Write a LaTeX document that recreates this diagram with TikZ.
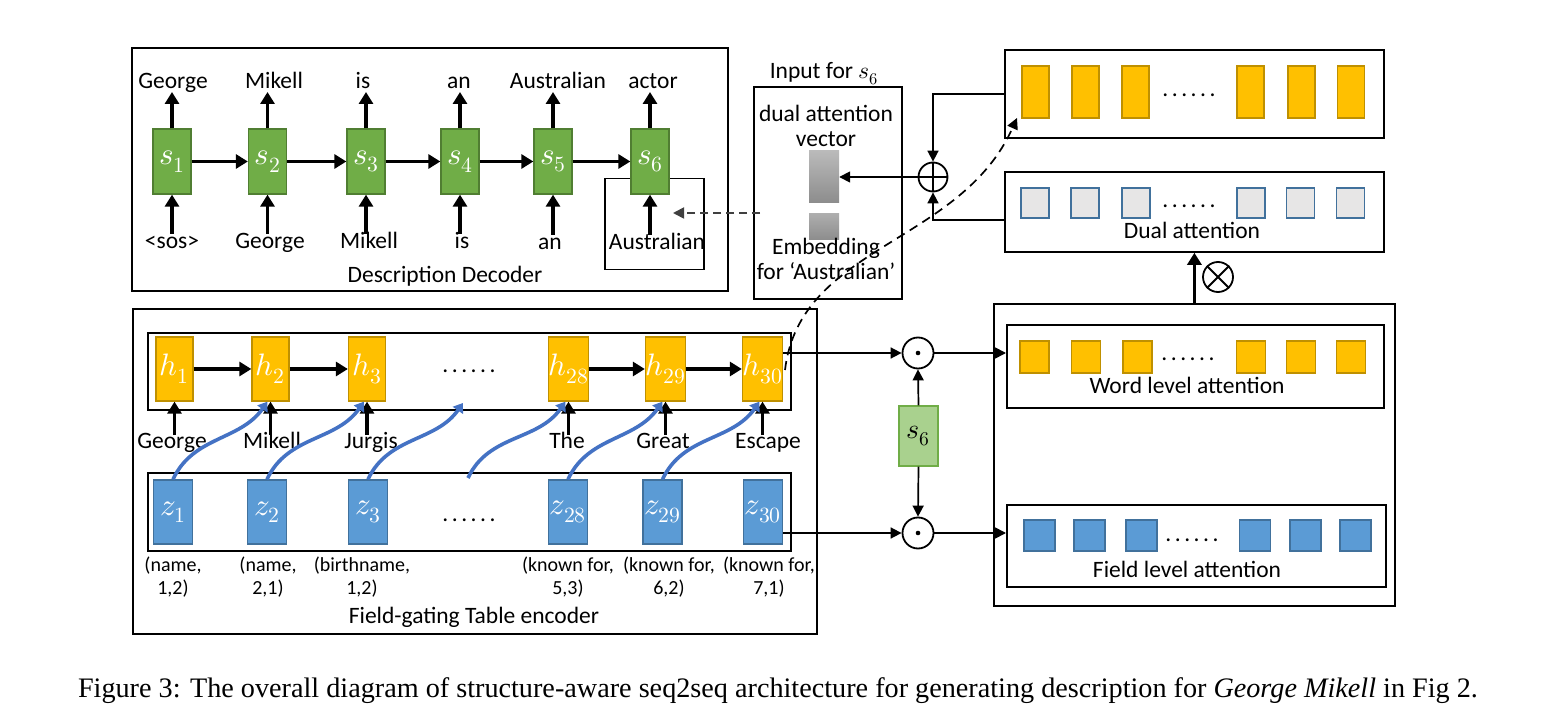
\documentclass[tikz,border=0pt]{standalone}
\usepackage{fontspec}
\usepackage{unicode-math}
\setmainfont{Carlito}
\setmathfont{Latin Modern Math}
\newfontfamily\capfont{Liberation Serif}
\usetikzlibrary{arrows.meta,calc}
\definecolor{sgreen}{HTML}{70AD47}
\definecolor{sgreenb}{HTML}{507E32}
\definecolor{lgreen}{HTML}{A9D18E}
\definecolor{ygold}{HTML}{FFC000}
\definecolor{ygoldb}{HTML}{BF9000}
\definecolor{zblue}{HTML}{5B9BD5}
\definecolor{zblueb}{HTML}{41719C}
\definecolor{cblue}{HTML}{4472C4}
\definecolor{lgray}{HTML}{E7E6E6}
\definecolor{dgray}{HTML}{404040}
\newcommand\sixdots{.\kern3.5pt.\kern3.5pt.\kern3.5pt.\kern3.5pt.\kern3.5pt.}
\begin{document}
\begin{tikzpicture}[x=1pt,y=-1pt,
  framebox/.style={draw=black, line width=1.8pt, rectangle, anchor=north west, inner sep=0pt},
  lbl/.style={font=\fontsize{23.5}{27}\selectfont, inner sep=0pt, anchor=base},
  plbl/.style={font=\fontsize{20}{23}\selectfont, inner sep=0pt, align=center},
  cell/.style={rectangle, inner sep=0pt, line width=1.3pt, text=white, font=\fontsize{31}{33}\selectfont},
  sbox/.style={cell, fill=sgreen, draw=sgreenb, minimum width=38pt, minimum height=65pt},
  hbox/.style={cell, fill=ygold, draw=ygoldb, minimum width=37pt, minimum height=64pt},
  zbox/.style={cell, fill=zblue, draw=zblueb, minimum width=39pt, minimum height=64pt},
  yrect/.style={rectangle, inner sep=0pt, line width=1.3pt, fill=ygold, draw=ygoldb},
  grect/.style={rectangle, inner sep=0pt, line width=1.3pt, fill=lgray, draw=zblueb, minimum width=28pt, minimum height=30pt},
  brect/.style={rectangle, inner sep=0pt, line width=1.3pt, fill=zblue, draw=zblueb, minimum width=31pt, minimum height=31pt},
  tarrow/.style={line width=3.6pt, -{Triangle[length=12pt,width=14pt]}},
  narrow/.style={line width=1.7pt, -{Triangle[length=11pt,width=11pt]}},
  barrow/.style={cblue, line width=3.6pt, -{Triangle[length=9pt,width=12pt]}},
  dasharrow/.style={line width=1.8pt, dash pattern=on 8pt off 5pt, -{Triangle[length=11pt,width=11pt]}},
  circop/.style={circle, draw, line width=1.8pt, minimum size=31pt, inner sep=0pt}
]
\fill[white] (0,0) rectangle (1550,708);
\useasboundingbox (0,0) rectangle (1550,708);

% ---------------- Decoder ----------------
\node[framebox, minimum width=596pt, minimum height=243pt] (dec) at (131,47) {};
\node[framebox, line width=1.5pt, minimum width=99pt, minimum height=91pt] (s6in) at (604,178) {};
\foreach \i/\x in {1/172,2/267.5,3/366,4/460,5/553,6/650}
  \node[sbox] (s\i) at (\x,161.5) {$s_{\i}$};
\node[lbl] (o1) at (173,89) {George};
\node[lbl] (o2) at (274,89) {Mikell};
\node[lbl] (o3) at (363,89) {is};
\node[lbl] (o4) at (459,89) {an};
\node[lbl] (o5) at (558,89) {Australian};
\node[lbl] (o6) at (653,89) {actor};
\node[lbl] (i1) at (172,249) {<sos>};
\node[lbl] (i2) at (270,249) {George};
\node[lbl] (i3) at (369,249) {Mikell};
\node[lbl] (i4) at (462,249) {is};
\node[lbl] (i5) at (550,250) {an};
\node[lbl] (i6) at (657,250) {Australian};
\foreach \i in {1,...,6}{
  \draw[tarrow] (s\i.north) -- ($(s\i.north |- o\i.base)+(0,3)$);
  \draw[tarrow] ($(s\i.south |- i\i.base)+(0,-15)$) -- (s\i.south);
}
\foreach \a/\b in {1/2,2/3,3/4,4/5,5/6}
  \draw[tarrow] (s\a.east) -- (s\b.west);
\node[lbl] (dect) at (445,283) {Description Decoder};

% ---------------- Input for s6 ----------------
\node[framebox, minimum width=148pt, minimum height=212pt] (inp) at (753,86) {};
\node[lbl] (inpt) at (824,79) {Input for $s_6$};
\node[lbl] (dav1) at (826,122) {dual attention};
\node[lbl] (dav2) at (826,147) {vector};
\node[rectangle, inner sep=0pt, top color=black!27, bottom color=black!45, minimum width=30pt, minimum height=52pt] (gv) at (824,177) {};
\node[rectangle, inner sep=0pt, top color=black!32, bottom color=black!45, minimum width=30pt, minimum height=26pt] (ge) at (824,227) {};
\node[lbl] (emb1) at (826,255) {Embedding};
\node[lbl] (emb2) at (826,280) {for ‘Australian’};

\coordinate (dA) at (760,213);
\coordinate (dB) at (673,213);
\draw[dasharrow, dgray] (dA) -- (dB);

% ---------------- top right boxes ----------------
\node[framebox, minimum width=379pt, minimum height=88pt] (tr) at (1004,49) {};
\foreach \i/\x in {1/1035.5,2/1085.5,3/1135.5,4/1250.5,5/1301.5,6/1351}
  \node[yrect, minimum width=27pt, minimum height=52pt] (ty\i) at (\x,92) {};
\node[lbl] (tdots) at (1189,97) {\sixdots};

\node[framebox, minimum width=379pt, minimum height=80pt] (dual) at (1004,171) {};
\foreach \i/\x in {1/1035,2/1085,3/1136,4/1251,5/1300.5,6/1350.5}
  \node[grect] (dg\i) at (\x,203) {};
\node[lbl] (ddots) at (1189,208) {\sixdots};
\node[lbl] (dualt) at (1192,239) {Dual attention};

\node[circop, minimum size=29pt] (op) at (933,177) {};
\draw[line width=1.8pt] (op.north) -- (op.south) (op.west) -- (op.east);
\draw[narrow] (tr.west) -| (op.north);
\draw[narrow] ([yshift=-8pt]dual.west) -| (op.south);
\draw[narrow] (op.west) -- (gv.east);

% ---------------- attention boxes ----------------
\node[framebox, minimum width=401pt, minimum height=302pt] (big) at (993,303) {};
\node[framebox, minimum width=377pt, minimum height=83pt] (word) at (1006,324) {};
\node[framebox, minimum width=379pt, minimum height=82pt] (field) at (1006,504) {};
\foreach \i/\x in {1/1034.5,2/1086,3/1137.5,4/1251,5/1301,6/1351}
  \node[yrect, minimum width=29pt, minimum height=32pt] (wy\i) at (\x,357) {};
\node[lbl] (wdots) at (1188,361) {\sixdots};
\node[lbl] (wordt) at (1187,394) {Word level attention};
\foreach \i/\x in {1/1039.5,2/1089.5,3/1141.5,4/1255,5/1305.5,6/1355.5}
  \node[brect] (fb\i) at (\x,535.5) {};
\node[lbl] (fdots) at (1192,541) {\sixdots};
\node[lbl] (fieldt) at (1187,577) {Field level attention};

\node[circop, minimum size=30pt] (ot) at (1218,277) {};
\draw[line width=1.8pt] (ot.north west) -- (ot.south east) (ot.north east) -- (ot.south west);
\draw[tarrow] (big.north) -- (big.north |- dual.south);

% ---------------- Encoder ----------------
\node[framebox, minimum width=684pt, minimum height=325pt] (enc) at (132,308) {};
\node[framebox, minimum width=643pt, minimum height=77pt] (hin) at (147,332) {};
\node[framebox, minimum width=643pt, minimum height=78pt] (zin) at (147,472) {};
\foreach \i/\x in {1/174.5,2/270.5,3/367,28/568.5,29/665.5,30/762.5}
  \node[hbox] (h\i) at (\x,369) {$h_{\i}$};
\foreach \a/\b in {1/2,2/3,28/29,29/30}
  \draw[tarrow] (h\a.east) -- (h\b.west);
\node[lbl] (hdots) at (469,373) {\sixdots};

\node[lbl] (w1) at (172,448) {George};
\node[lbl] (w2) at (272,448) {Mikell};
\node[lbl] (w3) at (371,448) {Jurgis};
\node[lbl] (w28) at (567,448) {The};
\node[lbl] (w29) at (663,448) {Great};
\node[lbl] (w30) at (768,448) {Escape};
\foreach \i in {1,2,3,28,29,30}
  \draw[tarrow] ($(h\i.south |- w\i.base)+(0,-13)$) -- (h\i.south);

\foreach \i/\x in {1/173,2/267,3/368,28/568,29/662.5,30/763}
  \node[zbox] (z\i) at (\x,512) {$z_{\i}$};
\node[lbl] (zdots) at (469,521) {\sixdots};

\node[plbl] (p1) at (173,577) {(name,\\1,2)};
\node[plbl] (p2) at (268,577) {(name,\\2,1)};
\node[plbl] (p3) at (362,577) {(birthname,\\1,2)};
\node[plbl] (p28) at (568,577) {(known for,\\5,3)};
\node[plbl] (p29) at (669,577) {(known for,\\6,2)};
\node[plbl] (p30) at (769,577) {(known for,\\7,1)};
\node[lbl] (enct) at (474,623) {Field-gating Table encoder};

\coordinate (c3e) at (463,403);
\coordinate (c4s) at (468,478);
\draw[barrow] (z1.north) to[out=65,in=235] ([xshift=-3pt]h2.south);
\draw[barrow] (z2.north) to[out=65,in=235] ([xshift=-3pt]h3.south);
\draw[barrow] (z3.north) to[out=65,in=235] (c3e);
\draw[barrow] (c4s) to[out=65,in=235] ([xshift=-3pt]h28.south);
\draw[barrow] (z28.north) to[out=65,in=235] ([xshift=-3pt]h29.south);
\draw[barrow] (z29.north) to[out=65,in=235] ([xshift=-3pt]h30.south);

% ---------------- middle ----------------
\node[circop] (od1) at (918,353) {};
\fill (od1.center) circle (2.3pt);
\node[circop] (od2) at (918,533) {};
\fill (od2.center) circle (2.3pt);
\node[cell, fill=lgreen, draw=sgreen, text=black, minimum width=39pt, minimum height=60pt, font=\fontsize{28}{30}\selectfont] (s6b) at (918.5,436) {$s_6$};
\draw[narrow] (s6b.north) -- (od1.south);
\draw[narrow] (s6b.south) -- (od2.north);
\draw[narrow] (h30.east |- od1.west) -- (od1.west);
\draw[narrow] (z30.east |- od2.west) -- (od2.west);
\draw[narrow] (od1.east) -- (od1.east -| word.west);
\draw[narrow] (od2.east) -- (od2.east -| field.west);

\coordinate (dc1) at (785,370);
\coordinate (dc2) at (1017,118);
\draw[dasharrow, line width=1.7pt, dash pattern=on 9pt off 6pt] (dc1) .. controls (800,245) and (960,245) .. (dc2);

% ---------------- caption ----------------
\node[inner sep=0pt, anchor=base, font=\capfont\fontsize{27}{30}\selectfont] (cap) at (778,697)
  {\resizebox{1400pt}{!}{Figure 3: The overall diagram of structure-aware seq2seq architecture for generating description for \textit{George Mikell} in Fig 2.}};
\end{tikzpicture}
\end{document}
